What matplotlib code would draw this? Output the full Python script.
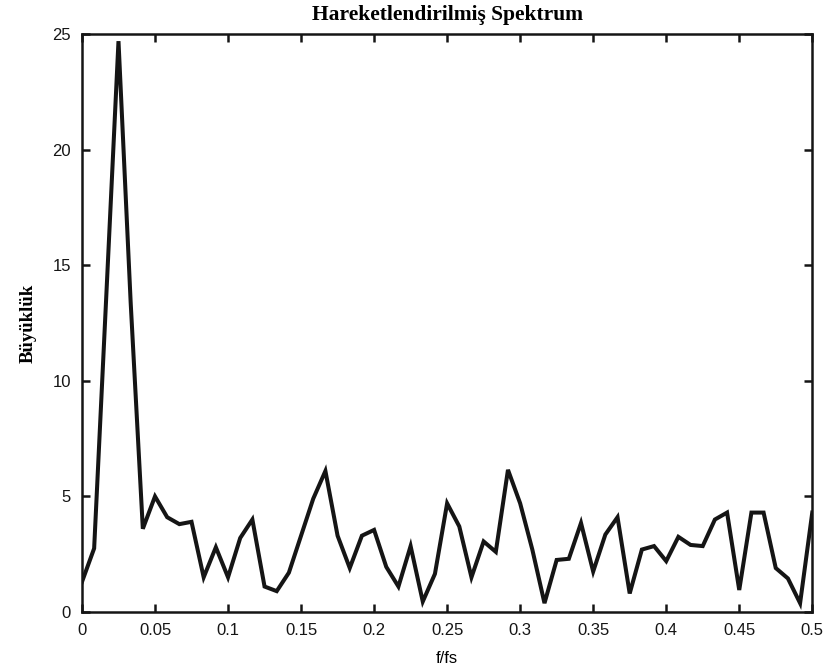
import numpy as np
import matplotlib
matplotlib.use("Agg")
import matplotlib.pyplot as plt

# Frequency bins (f/fs), 61 bins from 0 to 0.5
n_bins = 61
freq = np.arange(n_bins) / 120.0

magnitude = [1.3, 2.75, 13.7, 24.7, 13.4, 3.6, 5.0, 4.1, 3.8, 3.9,
             1.5, 2.8, 1.5, 3.2, 4.0, 1.1, 0.9, 1.7, 3.3, 4.9,
             6.1, 3.3, 1.9, 3.3, 3.55, 1.95, 1.1, 2.85, 0.45, 1.65,
             4.7, 3.7, 1.5, 3.05, 2.6, 6.15, 4.7, 2.7, 0.38, 2.25,
             2.3, 3.85, 1.75, 3.35, 4.1, 0.8, 2.7, 2.85, 2.2, 3.25,
             2.9, 2.85, 4.0, 4.3, 0.95, 4.3, 4.3, 1.9, 1.45, 0.38,
             4.3]

xticks = [0, 0.05, 0.1, 0.15, 0.2, 0.25, 0.3, 0.35, 0.4, 0.45, 0.5]
xtick_labels = ["0", "0.05", "0.1", "0.15", "0.2", "0.25", "0.3", "0.35", "0.4", "0.45", "0.5"]
yticks = [0, 5, 10, 15, 20, 25]
ytick_labels = ["0", "5", "10", "15", "20", "25"]

title = "Hareketlendirilmiş Spektrum"
xlabel = "f/fs"
ylabel = "Büyüklük"

fig = plt.figure(figsize=(8.28, 6.71), dpi=100)
ax = fig.add_axes([0.099, 0.088, 0.882, 0.861])

ax.plot(freq, magnitude, color="#151515", linewidth=2.9, solid_joinstyle="miter")

ax.set_xlim(0, 0.5)
ax.set_ylim(0, 25)
ax.set_xticks(xticks)
ax.set_xticklabels(xtick_labels)
ax.set_yticks(yticks)
ax.set_yticklabels(ytick_labels)

for s in ax.spines.values():
    s.set_linewidth(1.8)
    s.set_color("#151515")

ax.tick_params(direction="in", length=6, width=1.8, top=True, right=True,
               labelsize=12, colors="#151515", pad=8)
for lab in ax.get_xticklabels() + ax.get_yticklabels():
    lab.set_family(["Liberation Sans", "DejaVu Sans"])

ax.set_title(title, fontsize=15.5, fontweight="bold",
             family=["Liberation Serif", "DejaVu Serif"], pad=10)
ax.set_xlabel(xlabel, fontsize=12, family=["Liberation Sans", "DejaVu Sans"], labelpad=9)
ax.set_ylabel(ylabel, fontsize=13.5, fontweight="bold",
              family=["Liberation Serif", "DejaVu Serif"], labelpad=11)

fig.savefig("out.png", dpi=100)
